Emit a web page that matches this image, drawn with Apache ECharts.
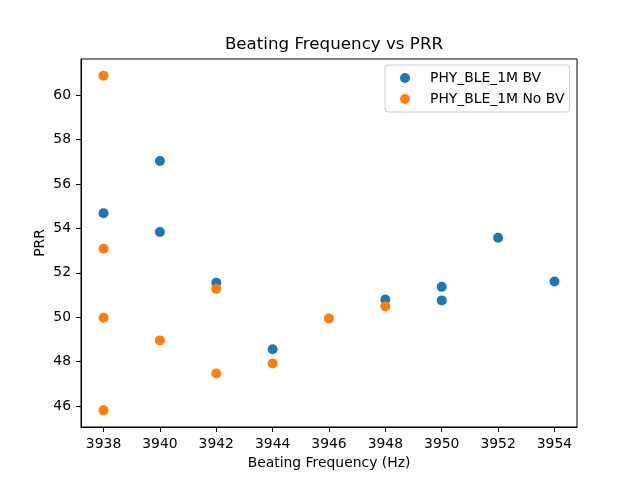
<!DOCTYPE html>
<html>
<head>
<meta charset="utf-8">
<script src="https://cdn.jsdelivr.net/npm/echarts@6/dist/echarts.min.js"></script>
<style>
  html, body { margin: 0; padding: 0; background: #fff; }
  #chart { width: 640px; height: 480px; }
</style>
</head>
<body>
<div id="chart"></div>
<script>
// 数据
var bvFreq = [3938, 3940, 3940, 3942, 3944, 3948, 3950, 3950, 3952, 3954]
var bvPrr = [54.69, 57.04, 53.84, 51.56, 48.56, 50.8, 51.37, 50.76, 53.58, 51.61]
var noBvFreq = [3938, 3938, 3938, 3938, 3940, 3942, 3942, 3944, 3946, 3948]
var noBvPrr = [60.88, 53.09, 49.98, 45.81, 48.96, 51.28, 47.47, 47.92, 49.95, 50.49]
var xTicks = [3938, 3940, 3942, 3944, 3946, 3948, 3950, 3952, 3954]
var yTicks = [46, 48, 50, 52, 54, 56, 58, 60]

var toPairs = function (xs, ys) {
  var res = []
  for (var i = 0; i < xs.length; i++) {
    res.push([xs[i], ys[i]])
  }
  return res
}

var font = 'DejaVu Sans'
var chart = echarts.init(document.getElementById('chart'))

var axisCommon = {
  splitLine: { show: false },
  axisLine: { show: true, onZero: false, lineStyle: { color: '#000', width: 1 } },
  axisTick: { show: true, inside: false, length: 5, lineStyle: { color: '#000' } },
  nameLocation: 'middle',
  nameTextStyle: { fontFamily: font, fontSize: 13.9, color: '#000' }
}

var option = {
  backgroundColor: '#fff',
  animation: false,
  title: {
    text: 'Beating Frequency vs PRR',
    left: 329,
    top: 31,
    textAlign: 'center',
    textStyle: { fontFamily: font, fontSize: 16.7, fontWeight: 'normal', color: '#000' }
  },
  legend: {
    orient: 'vertical',
    left: 385,
    top: 65,
    padding: [6, 5, 6, 15],
    itemGap: 7,
    itemWidth: 20,
    itemHeight: 10,
    icon: 'circle',
    borderColor: '#cccccc',
    borderWidth: 1,
    borderRadius: 3,
    backgroundColor: 'rgba(255,255,255,0.8)',
    textStyle: { fontFamily: font, fontSize: 13.9, color: '#000', padding: [0, 0, 0, 10] },
    data: ['PHY_BLE_1M BV', 'PHY_BLE_1M No BV']
  },
  grid: {
    left: 81,
    right: 63,
    top: 59,
    bottom: 53,
    show: true,
    borderColor: '#000',
    borderWidth: 1,
    backgroundColor: 'transparent'
  },
  xAxis: Object.assign({}, axisCommon, {
    type: 'value',
    min: 3937.2,
    max: 3954.8,
    name: 'Beating Frequency (Hz)',
    nameGap: 27,
    axisTick: Object.assign({}, axisCommon.axisTick, { customValues: xTicks }),
    axisLabel: {
      customValues: xTicks,
      margin: 10,
      fontFamily: font,
      fontSize: 13.9,
      color: '#000',
      formatter: function (v) { return String(v) }
    }
  }),
  yAxis: Object.assign({}, axisCommon, {
    type: 'value',
    min: 45.06,
    max: 61.63,
    name: 'PRR',
    nameGap: 34,
    nameMoveOverlap: false,
    axisTick: Object.assign({}, axisCommon.axisTick, { customValues: yTicks }),
    axisLabel: { customValues: yTicks, margin: 10, fontFamily: font, fontSize: 13.9, color: '#000' }
  }),
  series: [
    {
      name: 'PHY_BLE_1M BV',
      type: 'scatter',
      symbolSize: 10,
      itemStyle: { color: '#1f77b4', opacity: 1 },
      data: toPairs(bvFreq, bvPrr)
    },
    {
      name: 'PHY_BLE_1M No BV',
      type: 'scatter',
      symbolSize: 10,
      itemStyle: { color: '#ff7f0e', opacity: 1 },
      data: toPairs(noBvFreq, noBvPrr)
    }
  ]
}

chart.setOption(option)
</script>
</body>
</html>
